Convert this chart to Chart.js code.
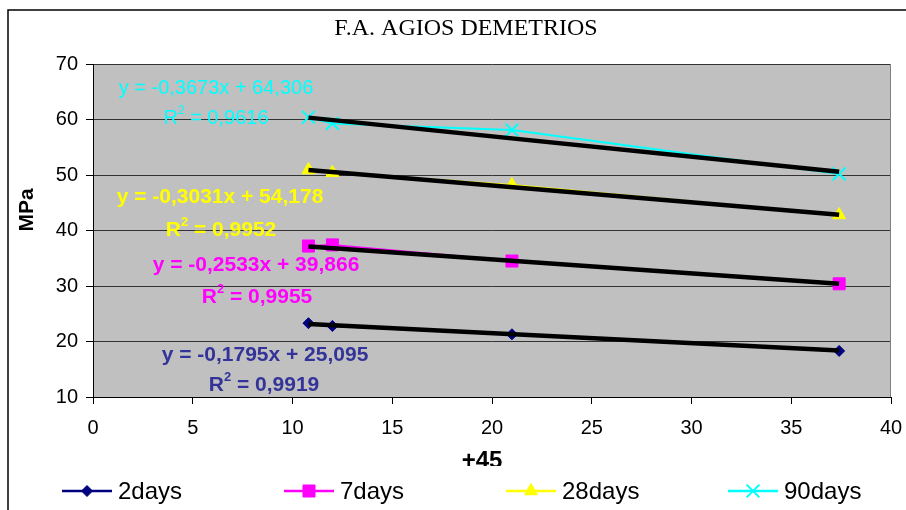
<!DOCTYPE html>
<html><head><meta charset="utf-8">
<script src="https://cdn.jsdelivr.net/npm/chart.js@4.4.1/dist/chart.umd.min.js"></script>
<style>html,body{margin:0;padding:0;background:#fff;}#wrap{width:906px;height:510px;}</style>
</head><body><div id="wrap"><canvas id="c" width="906" height="510"></canvas></div>
<script>
// ---- data ----
const chartTitle = 'F.A. AGIOS DEMETRIOS';
const xTitle = '+45';
const yTitle = 'MPa';
const xValues = [10.8, 12, 21, 37.4];
const seriesNames = ['2days', '7days', '28days', '90days'];
const mpa2days = [23.3, 22.8, 21.3, 18.3];
const mpa7days = [37.2, 37.4, 34.5, 30.4];
const mpa28days = [50.9, 50.4, 48.2, 42.8];
const mpa90days = [60.4, 59.3, 58.1, 50.2];
const trendSlopes = [-0.1795, -0.2533, -0.3031, -0.3673];
const trendIntercepts = [25.095, 39.866, 54.178, 64.306];
const trendEquations = ['y = -0,1795x + 25,095', 'y = -0,2533x + 39,866', 'y = -0,3031x + 54,178', 'y = -0,3673x + 64,306'];
const trendR2 = ['0,9919', '0,9955', '0,9952', '0,9616'];
const xAxisMin = 0, xAxisMax = 40, xAxisStep = 5;
const yAxisMin = 10, yAxisMax = 70, yAxisStep = 10;

// ---- styles ----
const SANS = "'Liberation Sans', Arial, sans-serif";
const SERIF = "'Liberation Serif', 'Times New Roman', serif";
const colors = ['#000080', '#FF00FF', '#FFFF00', '#00FFFF'];
const eqColors = ['#333399', '#FF00FF', '#FFFF00', '#00FFFF'];
const eqBold = [true, true, true, false];
const pointStyles = ['rectRot', 'rect', 'triangle', 'crossRot'];
const pointRadii = [5.5, 8.5, 7.5, 9];
// label anchor positions (pixel centres): [eqX, eqY, r2X, r2Y]
const eqPos = [[265, 355, 264, 385], [256, 265, 257, 297], [220, 197, 221, 230], [216, 88, 216, 118]];

const seriesValues = [mpa2days, mpa7days, mpa28days, mpa90days];
const datasets = [];
seriesValues.forEach((vals, i) => {
  datasets.push({
    label: seriesNames[i],
    data: xValues.map((x, k) => ({ x: x, y: vals[k] })),
    borderColor: colors[i],
    backgroundColor: colors[i],
    borderWidth: 2,
    pointStyle: pointStyles[i],
    pointRadius: pointRadii[i],
    pointBorderWidth: i === 3 ? 2 : 1,
    pointBorderColor: colors[i],
    pointBackgroundColor: colors[i],
    showLine: true,
    order: 1
  });
});
seriesValues.forEach((vals, i) => {
  const x0 = Math.min(...xValues), x1 = Math.max(...xValues);
  datasets.push({
    label: 'trend' + i,
    data: [{ x: x0, y: trendIntercepts[i] + trendSlopes[i] * x0 }, { x: x1, y: trendIntercepts[i] + trendSlopes[i] * x1 }],
    borderColor: '#000',
    borderWidth: 4.5,
    pointRadius: 0,
    showLine: true,
    order: 0
  });
});

function drawMarker(ctx, style, r, x, y, color, bw) {
  ctx.save();
  ctx.fillStyle = color; ctx.strokeStyle = color; ctx.lineWidth = bw;
  ctx.beginPath();
  if (style === 'rectRot') {
    ctx.moveTo(x - r, y); ctx.lineTo(x, y - r); ctx.lineTo(x + r, y); ctx.lineTo(x, y + r); ctx.closePath(); ctx.fill(); ctx.stroke();
  } else if (style === 'rect') {
    const s = Math.SQRT1_2 * r; ctx.rect(x - s, y - s, 2 * s, 2 * s); ctx.fill(); ctx.stroke();
  } else if (style === 'triangle') {
    ctx.moveTo(x, y - r); ctx.lineTo(x + r * 0.866, y + r / 2); ctx.lineTo(x - r * 0.866, y + r / 2); ctx.closePath(); ctx.fill(); ctx.stroke();
  } else {
    const s = Math.SQRT1_2 * r; ctx.moveTo(x - s, y - s); ctx.lineTo(x + s, y + s); ctx.moveTo(x + s, y - s); ctx.lineTo(x - s, y + s); ctx.stroke();
  }
  ctx.restore();
}

function drawR2(ctx, cx, cy, val, size, bold, color) {
  const w = bold ? 'bold ' : '';
  const big = w + size + 'px ' + SANS, small = w + Math.round(size * 0.6) + 'px ' + SANS;
  ctx.font = big; const wR = ctx.measureText('R').width; const rest = ' = ' + val; const wRest = ctx.measureText(rest).width;
  ctx.font = small; const w2 = ctx.measureText('2').width;
  let x = cx - (wR + w2 + wRest) / 2;
  ctx.fillStyle = color; ctx.textAlign = 'left'; ctx.textBaseline = 'middle';
  ctx.font = big; ctx.fillText('R', x, cy); x += wR;
  ctx.font = small; ctx.fillText('2', x, cy - size * 0.38); x += w2;
  ctx.font = big; ctx.fillText(rest, x, cy);
}

const deco = {
  id: 'deco',
  beforeDraw(chart) {
    const ctx = chart.ctx, a = chart.chartArea;
    ctx.save();
    ctx.fillStyle = '#fff'; ctx.fillRect(0, 0, chart.width, chart.height);
    ctx.fillStyle = '#C0C0C0'; ctx.fillRect(a.left, a.top, a.right - a.left, a.bottom - a.top);
    ctx.restore();
  },
  afterDraw(chart) {
    const ctx = chart.ctx, a = chart.chartArea;
    ctx.save();
    // plot right border
    ctx.strokeStyle = '#808080'; ctx.lineWidth = 1;
    ctx.beginPath(); ctx.moveTo(Math.round(a.right) - 0.5, a.top); ctx.lineTo(Math.round(a.right) - 0.5, a.bottom); ctx.stroke();
    // equations
    for (let i = 0; i < 4; i++) {
      const p = eqPos[i];
      const sz = eqBold[i] ? 21 : 20;
      ctx.font = (eqBold[i] ? 'bold ' : '') + sz + 'px ' + SANS;
      ctx.fillStyle = eqColors[i]; ctx.textAlign = 'center'; ctx.textBaseline = 'middle';
      ctx.fillText(trendEquations[i], p[0], p[1]);
      drawR2(ctx, p[2], p[3], trendR2[i], sz, eqBold[i], eqColors[i]);
    }
    // title
    ctx.fillStyle = '#000'; ctx.textAlign = 'center'; ctx.textBaseline = 'middle';
    ctx.font = '24px ' + SERIF; ctx.fillText(chartTitle, 466, 29);
    // y title
    ctx.save(); ctx.translate(27, 210); ctx.rotate(-Math.PI / 2);
    ctx.font = 'bold 21px ' + SANS; ctx.fillText(yTitle, 0, 0); ctx.restore();
    // x title
    ctx.font = 'bold 24px ' + SANS; ctx.fillText(xTitle, 482, 461);
    // legend background
    ctx.fillStyle = '#fff'; ctx.fillRect(10, 466, 896, 44);
    const lx = [62, 284, 506, 728];
    for (let i = 0; i < 4; i++) {
      const y = 491;
      ctx.strokeStyle = colors[i]; ctx.lineWidth = 2.5;
      ctx.beginPath(); ctx.moveTo(lx[i], y); ctx.lineTo(lx[i] + 50, y); ctx.stroke();
      drawMarker(ctx, pointStyles[i], pointRadii[i], lx[i] + 25, y, colors[i], i === 3 ? 2 : 1);
      ctx.fillStyle = '#000'; ctx.font = '24px ' + SANS; ctx.textAlign = 'left'; ctx.textBaseline = 'middle';
      ctx.fillText(seriesNames[i], lx[i] + 56, y + 1);
    }
    // outer border
    ctx.strokeStyle = '#000'; ctx.lineWidth = 1.5;
    ctx.beginPath(); ctx.moveTo(8, 510); ctx.lineTo(8, 10); ctx.lineTo(906, 10); ctx.stroke();
    ctx.restore();
  }
};

new Chart(document.getElementById('c'), {
  type: 'scatter',
  data: { datasets: datasets },
  options: {
    responsive: false, animation: false, devicePixelRatio: 1,
    layout: { padding: { top: 64, right: 15, left: 0, bottom: 0 } },
    plugins: { legend: { display: false }, title: { display: false }, tooltip: { enabled: false } },
    scales: {
      x: {
        type: 'linear', min: xAxisMin, max: xAxisMax,
        ticks: { stepSize: xAxisStep, color: '#000', font: { family: SANS, size: 20 }, padding: 12 },
        grid: { drawOnChartArea: false, drawTicks: true, tickLength: 7, tickColor: '#000', tickWidth: 1 },
        border: { color: '#000', width: 1 },
        afterFit(s) { s.height = 113; s.paddingLeft = 0; s.paddingRight = 0; }
      },
      y: {
        type: 'linear', min: yAxisMin, max: yAxisMax,
        ticks: { stepSize: yAxisStep, color: '#000', font: { family: SANS, size: 20 }, padding: 8 },
        grid: { color: '#333', lineWidth: 1, tickLength: 7, tickColor: '#000' },
        border: { color: '#000', width: 1 },
        afterFit(s) { s.width = 93; s.paddingTop = 0; s.paddingBottom = 0; }
      }
    }
  },
  plugins: [deco]
});
</script></body></html>
